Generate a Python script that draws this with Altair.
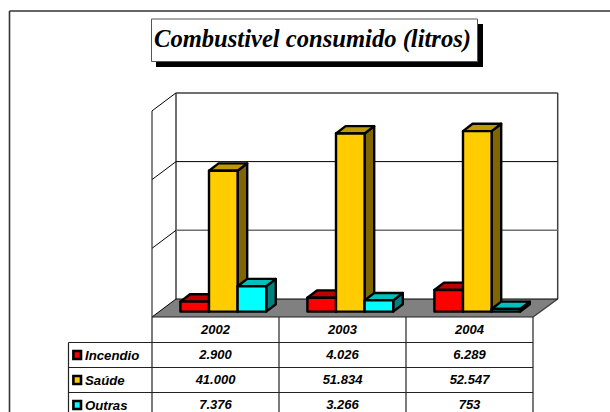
import altair as alt
import pandas as pd

# Chart content
title_text = "Combustivel consumido (litros)"
years = ["2002", "2003", "2004"]
series_names = ["Incendio", "Saúde", "Outras"]
incendio = [2900, 4026, 6289]
saude = [41000, 51834, 52547]
outras = [7376, 3266, 753]
series_values = [incendio, saude, outras]

front_colors = ["#FF0000", "#FFCC00", "#00FFFF"]
top_colors = ["#BF0000", "#BF9900", "#00BFBF"]
side_colors = ["#800000", "#806600", "#008080"]

# Canvas and projection setup (pixels per unit along each scale)
W, H = 610, 412
X0, CAT_W = 152.0, 127.0      # left edge of the category band, width of one category
Y0, PX_PER_UNIT = 311.6, 68.7 / 20000.0  # baseline of the bar fronts
BAR_W, BAR_LEFT = 28.6, 28.4
BAR_DX, BAR_DY = 9.6, 7.4     # extrusion of a bar
WALL_DX, WALL_DY = 24.0, 18.0 # extrusion of the whole box


def ux(px):
    return (px - X0) / CAT_W


def uy(px):
    return (Y0 - px) / PX_PER_UNIT


x_scale = alt.Scale(domain=[ux(0), ux(W)], range=[0, W], nice=False, zero=False)
y_scale = alt.Scale(domain=[uy(H), uy(0)], range=[H, 0], nice=False, zero=False)
X = alt.X("x:Q", scale=x_scale, axis=None)
Y = alt.Y("y:Q", scale=y_scale, axis=None)


def segments(rows, color, width):
    df = pd.DataFrame(
        [{"x": ux(a), "y": uy(b), "x2": ux(c), "y2": uy(d)} for a, b, c, d in rows]
    )
    return alt.Chart(df).mark_rule(color=color, strokeWidth=width).encode(
        x=X, y=Y, x2="x2:Q", y2="y2:Q"
    )


def box(x1, y1, x2, y2, **mark):
    df = pd.DataFrame([{"x": ux(x1), "y": uy(y1), "x2": ux(x2), "y2": uy(y2)}])
    return alt.Chart(df).mark_rect(**mark).encode(x=X, y=Y, x2="x2:Q", y2="y2:Q")


def labels(rows, **mark):
    df = pd.DataFrame(rows, columns=["x", "y", "t"])
    df["x"] = df["x"].map(ux)
    df["y"] = df["y"].map(uy)
    return alt.Chart(df).mark_text(**mark).encode(x=X, y=Y, text="t:N")


layers = []

# Outer frame
frame_left, frame_top = 9.5, 11.0
layers.append(segments([(frame_left, frame_top, W, frame_top),
                        (frame_left, frame_top, frame_left, H)], "#333333", 1.6))

# Title box with drop shadow
layers.append(box(156, 24, 483, 67, color="#000000"))
layers.append(box(151.5, 19, 477.5, 61.5, fill="#FFFFFF", stroke="#555555", strokeWidth=1))
layers.append(labels([(312.5, 39.5, title_text)], font="Liberation Serif", fontSize=24.6,
                     fontWeight="bold", fontStyle="italic", color="#000000",
                     align="center", baseline="middle"))

# Floor
front_y, back_y = 317.0, 299.0
right_front, right_back = X0 + 3 * CAT_W, X0 + 3 * CAT_W + WALL_DX + 0.7
floor = pd.DataFrame([
    {"y": uy(front_y), "x": ux(X0), "x2": ux(right_front)},
    {"y": uy(back_y), "x": ux(X0 + WALL_DX), "x2": ux(right_back)},
])
layers.append(alt.Chart(floor).mark_area(orient="horizontal", color="#808080").encode(
    x=X, x2="x2:Q", y=Y))

# Back wall and side wall, one gridline every 20 000 litres
wall_left = X0 + WALL_DX
wall_level = lambda v: back_y - v * PX_PER_UNIT
top_y = wall_level(60000)
layers.append(segments([(wall_left, top_y, right_back, top_y),
                        (right_back, top_y, right_back, back_y),
                        (wall_left, top_y, wall_left, back_y),
                        (right_back, back_y, right_front, front_y)], "#404040", 1.5))
layers.append(segments([(wall_left, wall_level(40000), right_back, wall_level(40000)),
                        (wall_left, wall_level(40000), X0, wall_level(40000) + WALL_DY),
                        (wall_left, wall_level(60000), X0, wall_level(60000) + WALL_DY),
                        (wall_left, back_y, X0, front_y),
                        (wall_left, back_y, right_back, back_y)], "#000000", 1))
layers.append(segments([(wall_left, wall_level(20000), right_back, wall_level(20000))],
                       "#707070", 1.6))
layers.append(segments([(wall_left, wall_level(20000), X0, wall_level(20000) + WALL_DY)],
                       "#000000", 1))

# Bars, back-to-front so each one covers the face of the previous
for s, values in enumerate(series_values):
    tops, sides, fronts = [], [], []
    for c, v in enumerate(values):
        left = X0 + c * CAT_W + BAR_LEFT + s * BAR_W
        right = left + BAR_W
        du = BAR_DY / PX_PER_UNIT
        dx = BAR_DX / CAT_W
        lu, ru = ux(left), ux(right)
        tops += [
            {"id": c, "y": v, "x": lu, "x2": ru},
            {"id": c, "y": v + du, "x": lu + dx, "x2": ru + dx},
        ]
        sides += [
            {"id": c, "x": ru, "y": 0, "y2": v},
            {"id": c, "x": ru + dx, "y": du, "y2": v + du},
        ]
        fronts.append({"x": lu, "x2": ru, "y": 0, "y2": v})
    line = dict(stroke="#000000", strokeWidth=2.4, strokeJoin="round")
    layers.append(alt.Chart(pd.DataFrame(sides)).mark_area(
        orient="vertical", fill=side_colors[s], **line
    ).encode(x=X, y=Y, y2="y2:Q", detail="id:N"))
    layers.append(alt.Chart(pd.DataFrame(tops)).mark_area(
        orient="horizontal", fill=top_colors[s], **line
    ).encode(x=X, x2="x2:Q", y=Y, detail="id:N"))
    layers.append(alt.Chart(pd.DataFrame(fronts)).mark_rect(
        fill=front_colors[s], **line
    ).encode(x=X, x2="x2:Q", y=Y, y2="y2:Q"))

# Data table grid
table_left = 68.5
row_lines = [342.5, 367.5, 392.5]
layers.append(segments(
    [(X0, front_y, right_front, front_y)]
    + [(table_left, r, right_front, r) for r in row_lines]
    + [(table_left, row_lines[0], table_left, H)]
    + [(X0 + i * CAT_W, front_y, X0 + i * CAT_W, H) for i in range(4)],
    "#222222", 1.2))
layers.append(segments([(X0, top_y + WALL_DY, X0, front_y)], "#333333", 1.2))

# Table texts
cell = dict(font="Liberation Sans", fontSize=13, fontWeight="bold", fontStyle="italic",
            color="#000000", align="center", baseline="middle")
row_centres = [355, 380, 405]
rows = [(X0 + (i + 0.5) * CAT_W, 330, y) for i, y in enumerate(years)]
for r, values in zip(row_centres, series_values):
    for i, v in enumerate(values):
        rows.append((X0 + (i + 0.5) * CAT_W, r - 0.5, f"{v:,}".replace(",", ".")))
layers.append(labels(rows, **cell))

# Legend keys and names in the first table column
for r, colour in zip(row_centres, front_colors):
    layers.append(box(73.4, r - 4, 81, r + 4, fill=colour, stroke="#000000", strokeWidth=2.6))
layers.append(labels([(85, r + 1, n) for r, n in zip(row_centres, series_names)],
                     font="Liberation Sans", fontSize=13.2, fontWeight="bold", fontStyle="italic",
                     color="#000000", align="left", baseline="middle"))

chart = alt.layer(*layers).properties(
    width=W, height=H, padding=0, autosize=alt.AutoSizeParams(type="none"),
    background="#FFFFFF",
).configure_view(stroke=None)

chart.save("out.html", embed_options={"renderer": "svg", "actions": False})
